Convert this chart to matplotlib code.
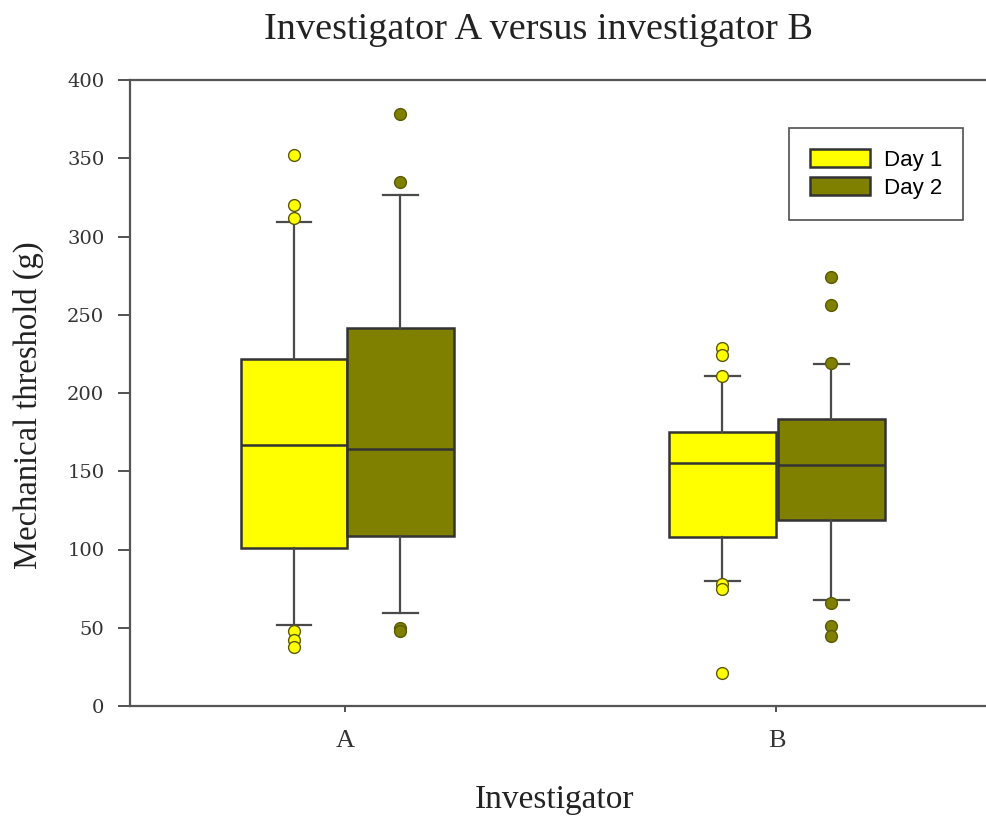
import matplotlib
matplotlib.use("Agg")
import matplotlib.pyplot as plt
from matplotlib.patches import Patch

# values
groups = ["A", "B"]
day1_q1 = [101, 108]
day1_med = [167, 155]
day1_q3 = [222, 175]
day1_lo = [52, 80]
day1_hi = [309, 211]
day1_fliers = [[352, 320, 312, 48, 42, 38], [229, 224, 211, 78, 75, 21]]

day2_q1 = [108.5, 119]
day2_med = [164, 154]
day2_q3 = [241.5, 183.5]
day2_lo = [59.5, 67.5]
day2_hi = [326.5, 218.5]
day2_fliers = [[378, 335, 50, 48], [274, 256, 219, 66, 51, 45]]

yellow = "#ffff00"
olive = "#808000"
edge = "#333333"

def make_stats(q1, med, q3, lo, hi, fl):
    out = []
    for i in range(len(q1)):
        out.append(dict(q1=q1[i], med=med[i], q3=q3[i], whislo=lo[i], whishi=hi[i], fliers=fl[i]))
    return out

fig = plt.figure(figsize=(9.87, 8.24), dpi=100)
ax = fig.add_axes([130/987, 1-706/824, 862/987, 626/824])

pos1 = [-0.1195, 0.8747]
pos2 = [0.1276, 1.1276]
w = 0.248

for stats, pos, col in [(make_stats(day1_q1, day1_med, day1_q3, day1_lo, day1_hi, day1_fliers), pos1, yellow),
                        (make_stats(day2_q1, day2_med, day2_q3, day2_lo, day2_hi, day2_fliers), pos2, olive)]:
    ax.bxp(stats, positions=pos, widths=w, capwidths=0.079, patch_artist=True, manage_ticks=False,
           boxprops=dict(facecolor=col, edgecolor=edge, linewidth=1.8),
           medianprops=dict(color=edge, linewidth=1.8),
           whiskerprops=dict(color="#4a4a4a", linewidth=1.6),
           capprops=dict(color="#4a4a4a", linewidth=1.6),
           flierprops=dict(marker="o", markerfacecolor=col, markeredgecolor="#5a5a00",
                           markeredgewidth=1.0, markersize=8.5))

ax.set_xlim(-0.5, 1.5)
ax.set_ylim(0, 400)
ax.set_xticks([0, 1])
ax.set_xticklabels(groups, fontfamily="Liberation Serif", fontsize=19)
ax.set_yticks(range(0, 401, 50))
ax.tick_params(axis="y", length=8.5, width=1.3, color="#444444", pad=10, labelsize=14)
ax.tick_params(axis="x", length=4, width=1.3, color="#444444", pad=13)
for lab in ax.get_yticklabels():
    lab.set_fontfamily("DejaVu Serif")
    lab.set_color("#333333")
for lab in ax.get_xticklabels():
    lab.set_color("#333333")

for s in ["left", "top", "bottom"]:
    ax.spines[s].set_color("#555555")
    ax.spines[s].set_linewidth(1.6)
ax.spines["right"].set_visible(False)

fig.text(539/987, 1-30/824, "Investigator A versus investigator B", ha="center", va="center",
         fontfamily="Liberation Serif", fontsize=27.5, color="#222222")
fig.text(555/987, 1-800/824, "Investigator", ha="center", va="center",
         fontfamily="Liberation Serif", fontsize=24, color="#222222")
fig.text(28/987, 1-405/824, "Mechanical threshold (g)", ha="center", va="center", rotation=90,
         fontfamily="Liberation Serif", fontsize=23.5, color="#222222")

handles = [Patch(facecolor=yellow, edgecolor=edge, linewidth=1.8, label="Day 1"),
           Patch(facecolor=olive, edgecolor=edge, linewidth=1.8, label="Day 2")]
leg = fig.legend(handles=handles, loc="upper right", bbox_to_anchor=(963/987, 1-128/824),
                 borderaxespad=0, frameon=True, fancybox=False,
                 prop=dict(family="Liberation Sans", size=16),
                 handlelength=2.7, handleheight=0.85, borderpad=0.95, labelspacing=0.3,
                 handletextpad=0.6)
leg.get_frame().set_edgecolor("#222222")
leg.get_frame().set_linewidth(1.2)

fig.savefig("out.png", dpi=100)
